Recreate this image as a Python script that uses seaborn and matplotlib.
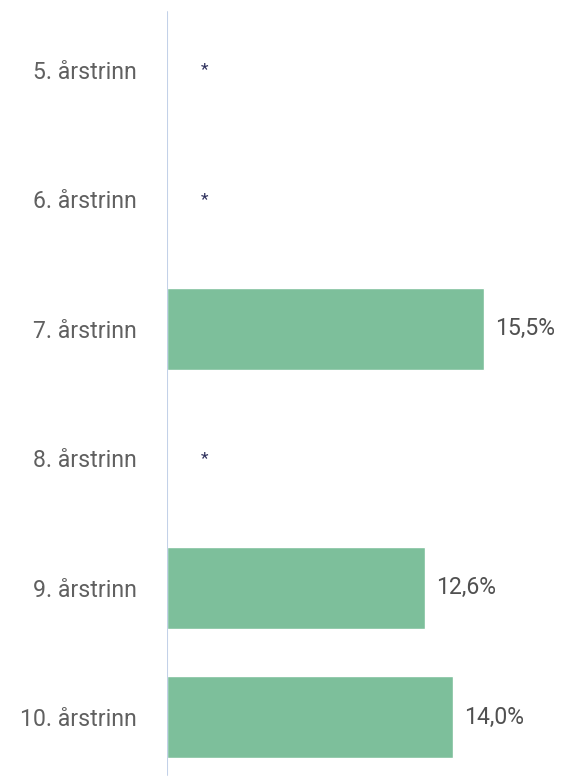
import matplotlib
matplotlib.use("Agg")
import matplotlib.pyplot as plt
import seaborn as sns
import numpy as np
import pandas as pd

categories = ["5. årstrinn", "6. årstrinn", "7. årstrinn", "8. årstrinn", "9. årstrinn", "10. årstrinn"]
values = [np.nan, np.nan, 15.5, np.nan, 12.6, 14.0]
value_labels = ["*", "*", "15,5%", "*", "12,6%", "14,0%"]

sns.set_theme(style="white")
plt.rcParams['font.family'] = ['Roboto', 'DejaVu Sans']

df = pd.DataFrame({"trinn": categories, "andel": values})

PX = 20.45  # pixels per percent
fig = plt.figure(figsize=(5.65, 7.82), dpi=100)
ax = fig.add_axes([167/565, 0, 1 - 167/565, 1 - 5/782])
sns.barplot(data=df, y="trinn", x="andel", orient="h", color="#7dbf9b",
            saturation=1, width=0.63, ax=ax, order=categories)
ax.set_xlim(0, 398/PX)
ax.set_ylim(5.5, -0.5)
for s in ax.spines.values():
    s.set_visible(False)
ax.axvline(0, ymin=(782-775)/777, ymax=(782-12)/777, color="#c3d1e8", lw=1.5, zorder=5)
ax.set_xticks([])
ax.set_xlabel("")
ax.set_ylabel("")
ax.tick_params(axis="y", length=0, pad=22, labelsize=16.6, labelcolor="#606060")

for i, (v, lab) in enumerate(zip(values, value_labels)):
    if np.isnan(v):
        ax.text(38/PX, i, lab, ha="center", va="center", fontsize=12.5, color="#2b2d5a")
    else:
        ax.text(v + 11/PX, i, lab, ha="left", va="center", fontsize=16.6, color="#505050")

fig.savefig("out.png", dpi=100)
